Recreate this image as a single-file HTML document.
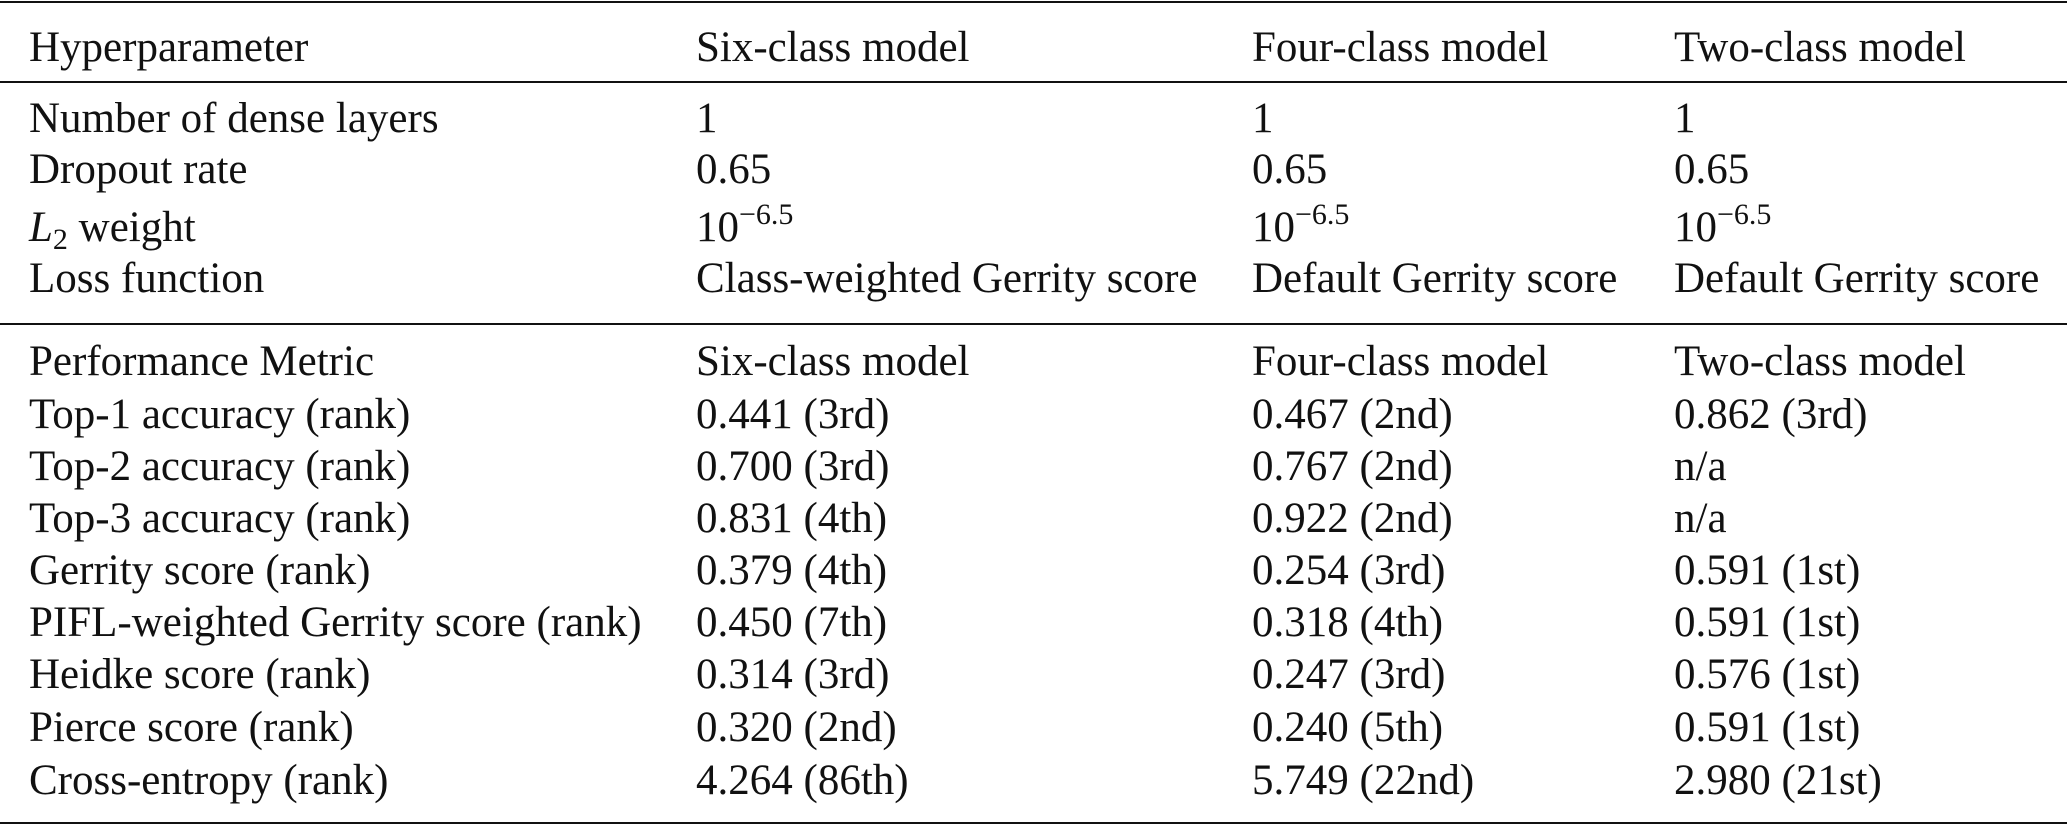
<!DOCTYPE html>
<html><head><meta charset="utf-8"><style>
html,body{margin:0;padding:0;background:#fff;}
body{width:2067px;height:826px;position:relative;overflow:hidden;font-family:"Liberation Serif",serif;font-size:43px;color:#111;}
.t{position:absolute;white-space:nowrap;line-height:43px;}
.l{position:absolute;left:0;width:2067px;height:2px;background:#111;}
sup{font-size:30px;vertical-align:17px;line-height:0;}
sub{font-size:30px;vertical-align:-8px;line-height:0;}
</style></head><body>
<div class="l" style="top:1px"></div>
<div class="l" style="top:81px"></div>
<div class="l" style="top:323px"></div>
<div class="l" style="top:822px"></div>

<div class="t" style="left:29px;top:26px">Hyperparameter</div>
<div class="t" style="left:696px;top:26px">Six-class model</div>
<div class="t" style="left:1252px;top:26px">Four-class model</div>
<div class="t" style="left:1674px;top:26px">Two-class model</div>

<div class="t" style="left:29px;top:97px">Number of dense layers</div>
<div class="t" style="left:696px;top:97px">1</div>
<div class="t" style="left:1252px;top:97px">1</div>
<div class="t" style="left:1674px;top:97px">1</div>

<div class="t" style="left:29px;top:148px">Dropout rate</div>
<div class="t" style="left:696px;top:148px">0.65</div>
<div class="t" style="left:1252px;top:148px">0.65</div>
<div class="t" style="left:1674px;top:148px">0.65</div>

<div class="t" style="left:29px;top:206px"><i>L</i><sub>2</sub> weight</div>
<div class="t" style="left:696px;top:206px">10<sup>−6.5</sup></div>
<div class="t" style="left:1252px;top:206px">10<sup>−6.5</sup></div>
<div class="t" style="left:1674px;top:206px">10<sup>−6.5</sup></div>

<div class="t" style="left:29px;top:257px">Loss function</div>
<div class="t" style="left:696px;top:257px">Class-weighted Gerrity score</div>
<div class="t" style="left:1252px;top:257px">Default Gerrity score</div>
<div class="t" style="left:1674px;top:257px">Default Gerrity score</div>

<div class="t" style="left:29px;top:340px">Performance Metric</div>
<div class="t" style="left:696px;top:340px">Six-class model</div>
<div class="t" style="left:1252px;top:340px">Four-class model</div>
<div class="t" style="left:1674px;top:340px">Two-class model</div>

<div class="t" style="left:29px;top:393px">Top-1 accuracy (rank)</div>
<div class="t" style="left:696px;top:393px">0.441 (3rd)</div>
<div class="t" style="left:1252px;top:393px">0.467 (2nd)</div>
<div class="t" style="left:1674px;top:393px">0.862 (3rd)</div>

<div class="t" style="left:29px;top:445px">Top-2 accuracy (rank)</div>
<div class="t" style="left:696px;top:445px">0.700 (3rd)</div>
<div class="t" style="left:1252px;top:445px">0.767 (2nd)</div>
<div class="t" style="left:1674px;top:445px">n/a</div>

<div class="t" style="left:29px;top:497px">Top-3 accuracy (rank)</div>
<div class="t" style="left:696px;top:497px">0.831 (4th)</div>
<div class="t" style="left:1252px;top:497px">0.922 (2nd)</div>
<div class="t" style="left:1674px;top:497px">n/a</div>

<div class="t" style="left:29px;top:549px">Gerrity score (rank)</div>
<div class="t" style="left:696px;top:549px">0.379 (4th)</div>
<div class="t" style="left:1252px;top:549px">0.254 (3rd)</div>
<div class="t" style="left:1674px;top:549px">0.591 (1st)</div>

<div class="t" style="left:29px;top:601px">PIFL-weighted Gerrity score (rank)</div>
<div class="t" style="left:696px;top:601px">0.450 (7th)</div>
<div class="t" style="left:1252px;top:601px">0.318 (4th)</div>
<div class="t" style="left:1674px;top:601px">0.591 (1st)</div>

<div class="t" style="left:29px;top:653px">Heidke score (rank)</div>
<div class="t" style="left:696px;top:653px">0.314 (3rd)</div>
<div class="t" style="left:1252px;top:653px">0.247 (3rd)</div>
<div class="t" style="left:1674px;top:653px">0.576 (1st)</div>

<div class="t" style="left:29px;top:706px">Pierce score (rank)</div>
<div class="t" style="left:696px;top:706px">0.320 (2nd)</div>
<div class="t" style="left:1252px;top:706px">0.240 (5th)</div>
<div class="t" style="left:1674px;top:706px">0.591 (1st)</div>

<div class="t" style="left:29px;top:759px">Cross-entropy (rank)</div>
<div class="t" style="left:696px;top:759px">4.264 (86th)</div>
<div class="t" style="left:1252px;top:759px">5.749 (22nd)</div>
<div class="t" style="left:1674px;top:759px">2.980 (21st)</div>
</body></html>
